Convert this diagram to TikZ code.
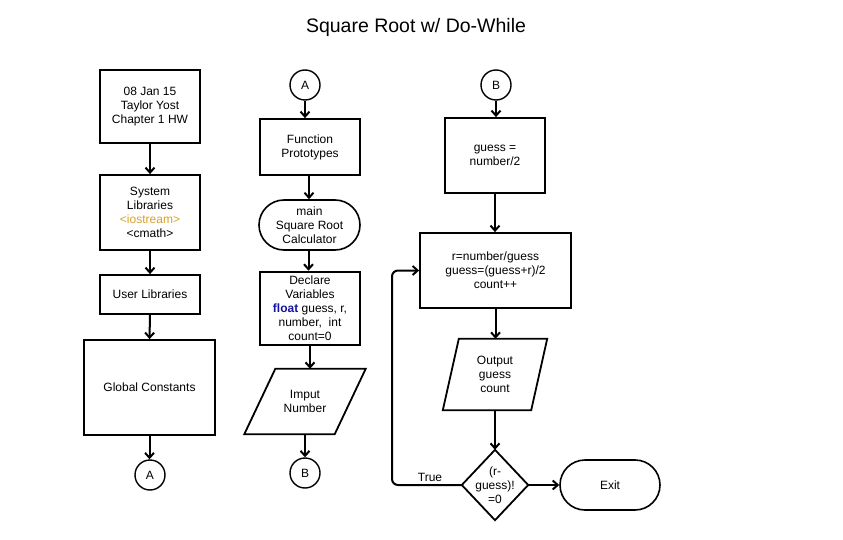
\documentclass[tikz,border=0pt]{standalone}
\usepackage{fontspec}
\setmainfont{Liberation Sans}
\usetikzlibrary{arrows.meta}
\definecolor{iocol}{HTML}{D9A02B}
\definecolor{floatcol}{HTML}{1414A0}
\begin{document}
\begin{tikzpicture}[x=1pt,y=-1pt,
  every node/.style={font=\fontsize{12}{14}\selectfont, align=center, inner sep=0pt},
  box/.style={draw, line width=1.8pt, minimum width=100pt},
  conn/.style={draw, circle, line width=1.4pt, minimum size=30pt},
  term/.style={draw, line width=1.6pt, rounded corners=25pt, minimum height=50pt},
  flow/.style={line width=2pt, -{Straight Barb[length=5pt,width=9pt]}},
  shapeline/.style={line width=1.8pt, line join=miter},
]
\useasboundingbox (0,0) rectangle (843,540);
\node[font=\fontsize{19.5}{23}\selectfont] (title) at (416,27) {Square Root w/ Do-While};

% left column
\node[box, minimum height=73pt] (hdr) at (150,106.5) {08 Jan 15\\Taylor Yost\\Chapter 1 HW};
\node[box, minimum height=75pt] (sys) at (150,212.5) {System\\Libraries\\\textcolor{iocol}{<iostream>}\\<cmath>};
\node[box, minimum height=39pt] (usr) at (150,294.5) {User Libraries};
\node[box, minimum width=131pt, minimum height=95pt] (glob) at (149.5,387.5) {Global Constants};
\node[conn] (ca1) at (150,475) {A};
\draw[flow] (hdr.south) -- (sys.north);
\draw[flow] (sys.south) -- (usr.north);
\draw[flow] (usr.south) -- (glob.north);
\draw[flow] (glob.south) -- (glob.south |- ca1.north);

% middle column
\node[conn] (ca2) at (305,85) {A};
\node[box, minimum height=56pt] (proto) at (310,147) {Function\\Prototypes};
\node[term, minimum width=101pt] (main) at (309.5,225) {main\\Square Root\\Calculator};
\node[box, line width=2.6pt, minimum height=73pt] (decl) at (310,308.5) {Declare\\Variables\\\textcolor{floatcol}{\textbf{float}} guess, r,\\number,~ int\\count=0};
\node[minimum width=90pt, minimum height=65pt] (inp) at (305,401.5) {Imput\\Number};
\draw[shapeline] ([xshift=15.5pt]inp.north west) -- ([xshift=15.5pt]inp.north east) -- ([xshift=-15.5pt]inp.south east) -- ([xshift=-15.5pt]inp.south west) -- cycle;
\node[conn] (cb1) at (305,473) {B};
\draw[flow] (ca2.south) -- (ca2.south |- proto.north);
\draw[flow] ([xshift=-1pt]proto.south) -- ([xshift=-1pt]proto.south |- main.north);
\draw[flow] ([xshift=-1pt]main.south) -- ([xshift=-1pt]main.south |- decl.north);
\draw[flow] (decl.south) -- (decl.south |- inp.north);
\draw[flow] (inp.south) -- (cb1.north);

% right column
\node[conn] (cb2) at (496,85) {B};
\node[box, minimum height=75pt] (g0) at (495,155.5) {guess =\\number/2};
\node[box, minimum width=151pt, minimum height=75pt] (loop) at (495.5,270.5) {r=number/guess\\guess=(guess+r)/2\\count++};
\node[minimum width=88pt, minimum height=71pt] (out) at (495,374.5) {Output\\guess\\count};
\draw[shapeline] ([xshift=8pt]out.north west) -- ([xshift=8pt]out.north east) -- ([xshift=-8pt]out.south east) -- ([xshift=-8pt]out.south west) -- cycle;
\node[minimum width=66pt, minimum height=70pt] (cond) at (495,485) {(r-\\guess)!\\=0};
\draw[shapeline] (cond.north) -- (cond.east) -- (cond.south) -- (cond.west) -- cycle;
\node[term, minimum width=100pt] (exit) at (610,485) {Exit};
\node (tlab) at (430,477) {True};
\coordinate (lc) at (392,0);
\draw[flow] (cb2.south) -- (cb2.south |- g0.north);
\draw[flow] (g0.south) -- (g0.south |- loop.north);
\draw[flow] (loop.south) -- (loop.south |- out.north);
\draw[flow] (out.south) -- (cond.north);
\draw[flow] (cond.east) -- (exit.west);
\draw[flow, rounded corners=6pt] (cond.west) -- (cond.west -| lc) -- (lc |- loop.west) -- (loop.west);
\end{tikzpicture}
\end{document}
